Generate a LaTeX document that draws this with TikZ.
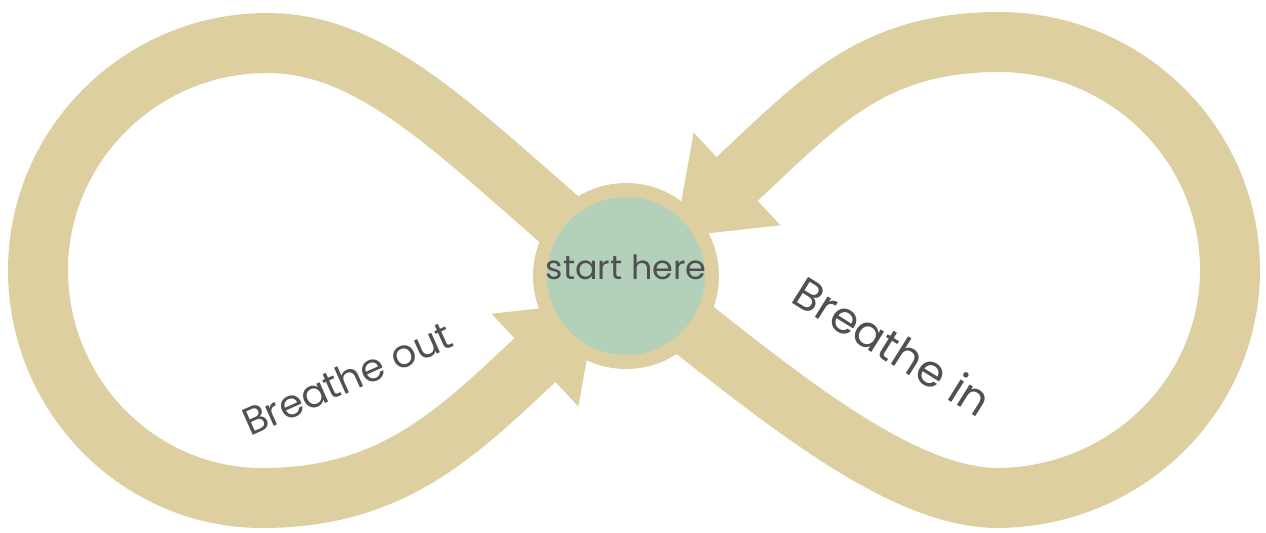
\documentclass[tikz,border=0pt]{standalone}
\usepackage{fontspec}
\setmainfont{Poppins}
\usetikzlibrary{arrows.meta,backgrounds}
\definecolor{loopsand}{HTML}{DDCFA0}
\definecolor{startsage}{HTML}{B3D0BB}
\definecolor{labelgray}{HTML}{505050}

\begin{document}
\begin{tikzpicture}[x=0.02cm, y=-0.02cm,
    band/.style={draw=loopsand, line width=1.2cm,
      -{Triangle[length=1.7cm, width=2.54cm, line width=0pt]}},
    breath/.style={text=labelgray, anchor=base, inner sep=0pt}]
  \useasboundingbox (0,0) rectangle (1266,532);
  \node[circle, fill=startsage, draw=loopsand, line width=0.28cm,
        minimum size=3.44cm, inner sep=0pt] (start) at (626,276) {};
  \node[breath, font=\fontsize{19}{22}\selectfont] (starttext)
    at ([yshift=-0.06cm]start.center) {start here};
  \coordinate (outtip) at (597,302);
  \coordinate (intip) at (675,237);
  \begin{scope}[on background layer]
    % breathe out: left loop
    \draw[band] (start.center) .. controls (472,150) and (385,43) .. (267,43)
      .. controls (141,43) and (38,145) .. (38,270)
      .. controls (38,396) and (139,498) .. (262,498)
      .. controls (390,498) and (454,436) .. (534,361) -- (outtip);
    % breathe in: right loop
    \draw[band] (start.center) .. controls (760,380) and (890,496) .. (996,498)
      .. controls (1125,498) and (1230,396) .. (1230,270)
      .. controls (1230,144) and (1126,42) .. (999,42)
      .. controls (871,42) and (818,104) .. (738,178) -- (intip);
  \end{scope}
  \node[breath, rotate=24, font=\fontsize{22}{26}\selectfont] (outlabel)
    at (353,391) {Breathe out};
  \node[breath, rotate=-32, font=\fontsize{25}{30}\selectfont] (inlabel)
    at (884,360) {Breathe in};
\end{tikzpicture}
\end{document}
